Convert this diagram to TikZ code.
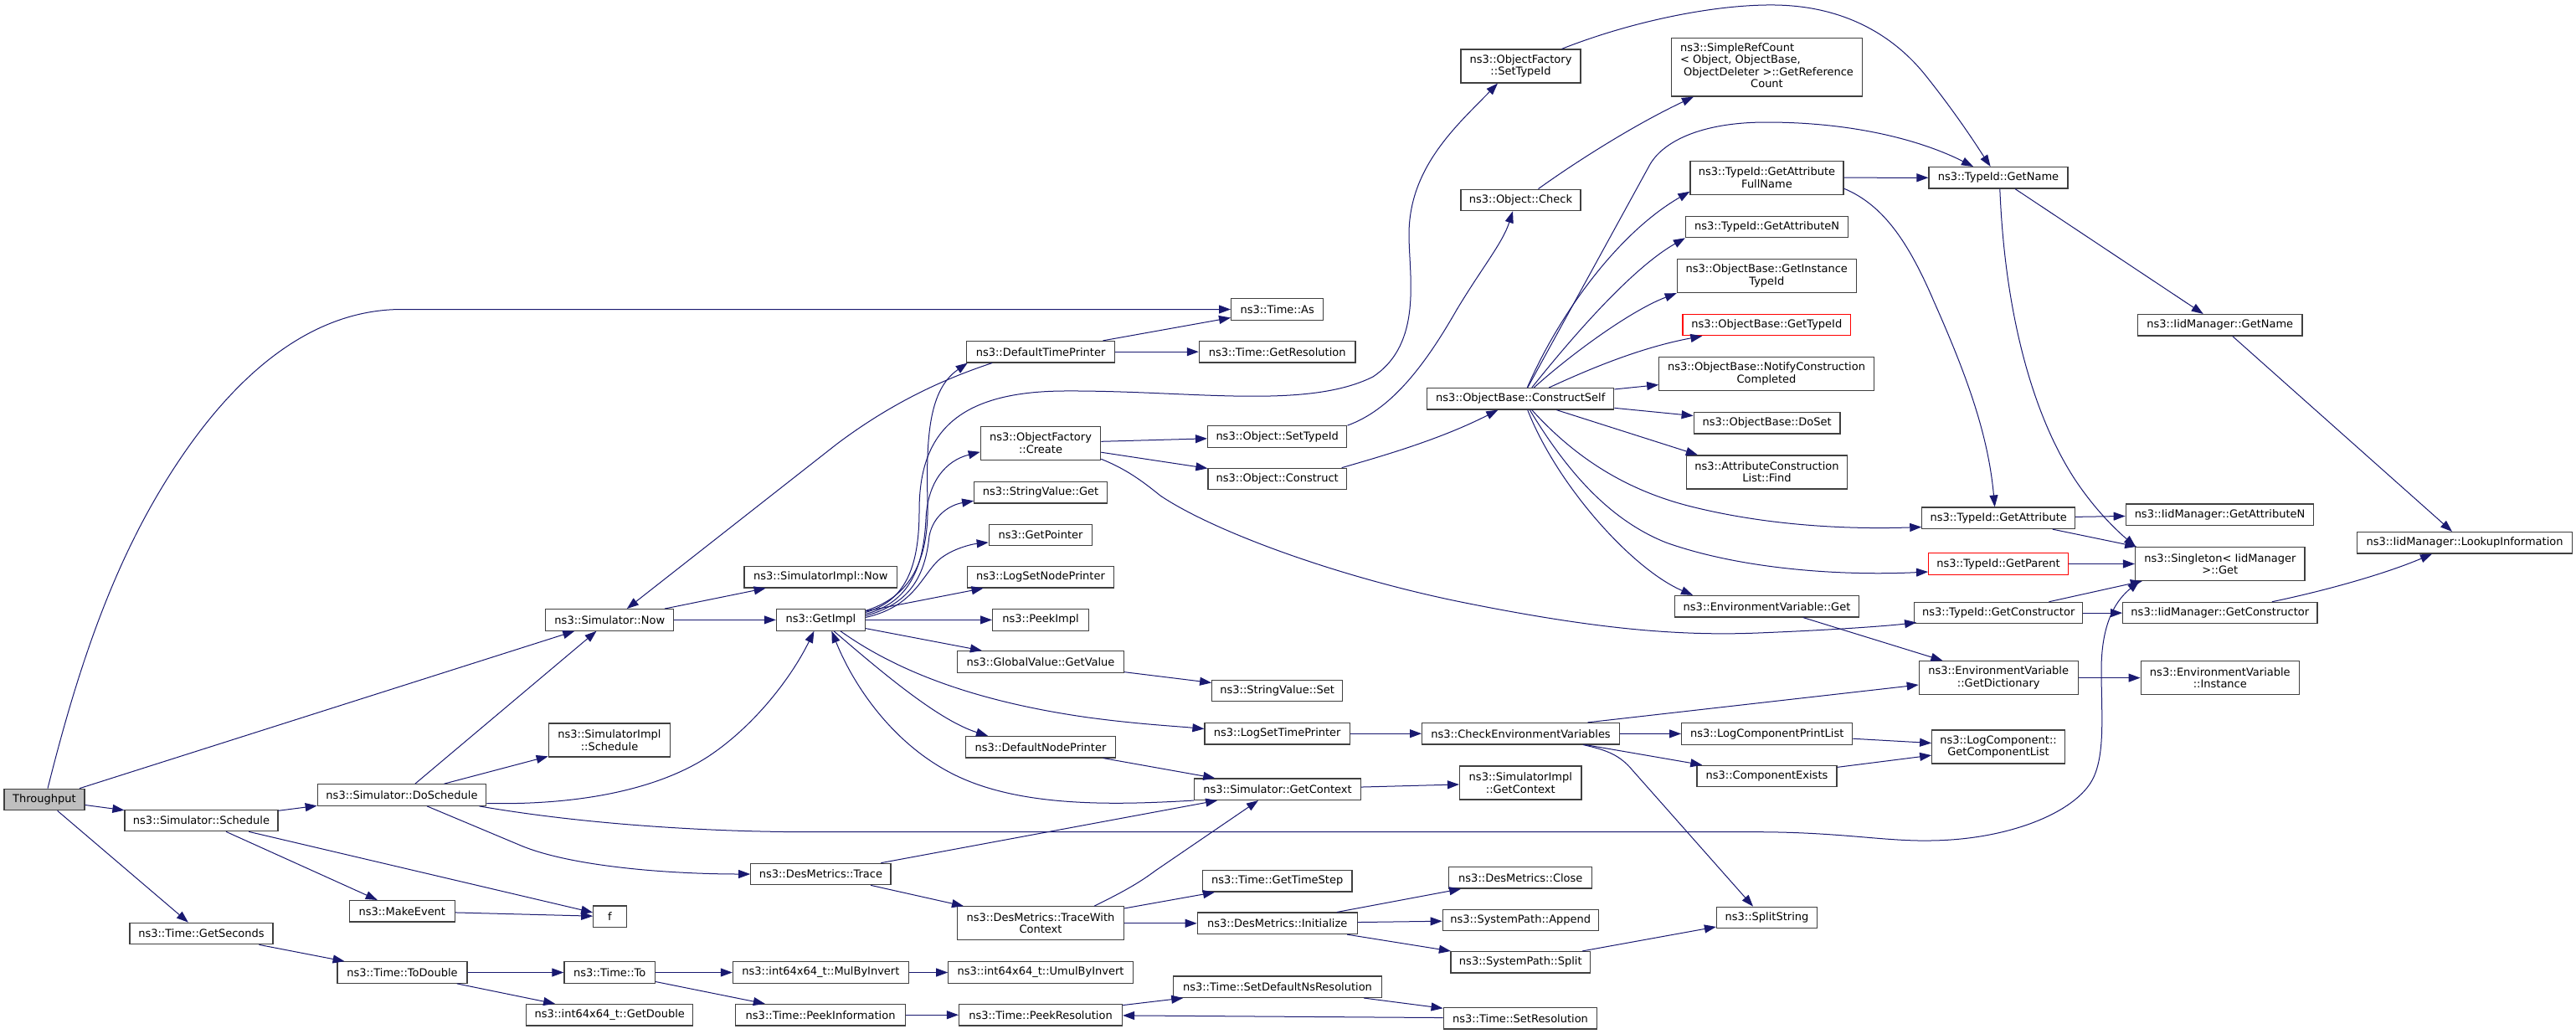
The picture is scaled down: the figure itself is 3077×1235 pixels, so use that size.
\documentclass[tikz,border=0pt]{standalone}
\usepackage{fontspec}
\setmainfont{DejaVu Sans}
\usetikzlibrary{arrows.meta,calc}
\definecolor{edgeblue}{HTML}{191970}
\definecolor{boxline}{HTML}{404040}
\newcommand\ndfont{\fontsize{9.75pt}{10.8pt}\selectfont}
\begin{document}
\begin{tikzpicture}[x=0.75pt,y=-0.75pt,
  nd/.style={draw=boxline, line width=0.9pt, fill=white, inner sep=0pt, align=center,
    minimum height=25.5*0.75pt, font=\ndfont, text=black},
  wd/.style={minimum width=#1*0.75pt},
  tall/.style={minimum height=40*0.75pt},
  hot/.style={draw=red},
  cur/.style={fill=black!25},
  ed/.style={draw=edgeblue, line width=0.75pt, -{Triangle[length=10.5pt,width=7.5pt]}}]
\fill[white] (0,0) rectangle (3077,1235);
\useasboundingbox (0,0) rectangle (3077,1235);

% ---- nodes ----
\node[nd,cur,wd=96] (thr) at (53,955) {Throughput};
\node[nd,wd=183] (sched) at (240.5,980) {ns3::Simulator::Schedule};
\node[nd,wd=171] (getsec) at (240.5,1115) {ns3::Time::GetSeconds};
\node[nd,wd=201.5] (dosched) at (480,949.5) {ns3::Simulator::DoSchedule};
\node[nd,wd=126] (makeev) at (480.3,1088.3) {ns3::MakeEvent};
\node[nd,wd=155] (todbl) at (480.5,1161.5) {ns3::Time::ToDouble};
\node[nd,wd=153] (now) at (728.3,740.4) {ns3::Simulator::Now};
\node[nd,tall,wd=145.5] (simschd) at (728,884) {ns3::SimulatorImpl\\::Schedule};
\node[nd,wd=39.5] (f) at (728.5,1094.7) {f};
\node[nd,wd=108.5] (timeto) at (728.2,1161.5) {ns3::Time::To};
\node[nd,wd=199] (getdbl) at (728.3,1212.2) {ns3::int64x64\_t::GetDouble};
\node[nd,wd=182.7] (simnow) at (980.3,689.2) {ns3::SimulatorImpl::Now};
\node[nd,wd=106] (getimpl) at (980.4,740.4) {ns3::GetImpl};
\node[nd,wd=167.3] (trace) at (980.4,1044) {ns3::DesMetrics::Trace};
\node[nd,wd=210] (mulinv) at (980.4,1161.5) {ns3::int64x64\_t::MulByInvert};
\node[nd,wd=202.5] (peekinfo) at (980.1,1212.2) {ns3::Time::PeekInformation};
\node[nd,wd=177.5] (dtp) at (1243.1,420.2) {ns3::DefaultTimePrinter};
\node[nd,tall,wd=143.4] (ofcreate) at (1243,529.3) {ns3::ObjectFactory\\::Create};
\node[nd,wd=158.6] (svget) at (1243,588.2) {ns3::StringValue::Get};
\node[nd,wd=123.5] (getptr) at (1243,638.9) {ns3::GetPointer};
\node[nd,wd=175] (lsnp) at (1243,689.2) {ns3::LogSetNodePrinter};
\node[nd,wd=114.8] (peekimpl) at (1243,740.4) {ns3::PeekImpl};
\node[nd,wd=199] (gvget) at (1243,790.4) {ns3::GlobalValue::GetValue};
\node[nd,wd=179] (dnp) at (1243,892.2) {ns3::DefaultNodePrinter};
\node[nd,tall,wd=199] (twc) at (1243,1102.8) {ns3::DesMetrics::TraceWith\\Context};
\node[nd,wd=220.4] (umul) at (1243,1161.5) {ns3::int64x64\_t::UmulByInvert};
\node[nd,wd=195] (peekres) at (1243,1212.2) {ns3::Time::PeekResolution};
\node[nd,wd=110.2] (timeas) at (1525.7,369.5) {ns3::Time::As};
\node[nd,wd=186.7] (getres) at (1525.7,420.2) {ns3::Time::GetResolution};
\node[nd,wd=166.3] (objsettid) at (1525.7,521.5) {ns3::Object::SetTypeId};
\node[nd,wd=165.4] (objconstr) at (1525.7,572) {ns3::Object::Construct};
\node[nd,wd=156] (svset) at (1525.7,825.1) {ns3::StringValue::Set};
\node[nd,wd=173.4] (lstp) at (1525.7,876.2) {ns3::LogSetTimePrinter};
\node[nd,wd=198.5] (getctx) at (1526,942.7) {ns3::Simulator::GetContext};
\node[nd,wd=178.6] (gettstep) at (1525.7,1052.3) {ns3::Time::GetTimeStep};
\node[nd,wd=190.8] (desinit) at (1525.7,1102.8) {ns3::DesMetrics::Initialize};
\node[nd,wd=249.5] (setdefns) at (1526,1178.7) {ns3::Time::SetDefaultNsResolution};
\node[nd,tall,wd=143] (ofsettid) at (1816.5,79) {ns3::ObjectFactory\\::SetTypeId};
\node[nd,wd=143] (objcheck) at (1816.5,238.9) {ns3::Object::Check};
\node[nd,wd=223] (cself) at (1816.3,476.3) {ns3::ObjectBase::ConstructSelf};
\node[nd,wd=235.7] (checkenv) at (1816.5,876.2) {ns3::CheckEnvironmentVariables};
\node[nd,tall,wd=145.4] (simctx) at (1816.3,935) {ns3::SimulatorImpl\\::GetContext};
\node[nd,wd=171] (desclose) at (1816.3,1048.3) {ns3::DesMetrics::Close};
\node[nd,wd=186.2] (spappend) at (1816.3,1099) {ns3::SystemPath::Append};
\node[nd,wd=166.8] (spsplit) at (1816.3,1149.3) {ns3::SystemPath::Split};
\node[nd,wd=183.7] (setres) at (1816,1216.2) {ns3::Time::SetResolution};
\node[nd,wd=228,minimum height=69.5*0.75pt] (srefcnt) at (2110.5,80.3)
  {\begin{tabular}{@{}l@{}}ns3::SimpleRefCount\\< Object, ObjectBase,\\\ ObjectDeleter >::GetReference\\\multicolumn{1}{@{}c@{}}{Count}\end{tabular}};
\node[nd,tall,wd=183] (gafull) at (2110.5,212.2) {ns3::TypeId::GetAttribute\\FullName};
\node[nd,wd=194.2] (gaN) at (2110.6,270.9) {ns3::TypeId::GetAttributeN};
\node[nd,tall,wd=214] (gitid) at (2110.3,329.6) {ns3::ObjectBase::GetInstance\\TypeId};
\node[nd,hot,wd=200.8] (gtid) at (2110.3,388) {ns3::ObjectBase::GetTypeId};
\node[nd,tall,wd=256.5] (notify) at (2110,446.6) {ns3::ObjectBase::NotifyConstruction\\Completed};
\node[nd,wd=174.8] (doset) at (2110.6,505.2) {ns3::ObjectBase::DoSet};
\node[nd,tall,wd=192.1] (acfind) at (2110.5,563.9) {ns3::AttributeConstruction\\List::Find};
\node[nd,wd=219.7] (envget) at (2110.5,724.2) {ns3::EnvironmentVariable::Get};
\node[nd,wd=204.1] (lcpl) at (2110.7,876.5) {ns3::LogComponentPrintList};
\node[nd,wd=166.9] (cexists) at (2110.5,927) {ns3::ComponentExists};
\node[nd,wd=120] (splitstr) at (2110.5,1096) {ns3::SplitString};
\node[nd,wd=166] (tgetname) at (2387,212.3) {ns3::TypeId::GetName};
\node[nd,wd=182.7] (tgetattr) at (2387.2,618.8) {ns3::TypeId::GetAttribute};
\node[nd,hot,wd=166.8] (tgetparent) at (2387,673.5) {ns3::TypeId::GetParent};
\node[nd,wd=201] (tgetctor) at (2387.2,732.1) {ns3::TypeId::GetConstructor};
\node[nd,tall,wd=189.8] (getdict) at (2387.2,809.6) {ns3::EnvironmentVariable\\::GetDictionary};
\node[nd,tall,wd=158.6] (getcomplist) at (2387,892) {ns3::LogComponent::\\GetComponentList};
\node[nd,wd=196.4] (iidgetname) at (2651.8,388.3) {ns3::IidManager::GetName};
\node[nd,wd=224.5] (iidgetattrN) at (2651.5,614.7) {ns3::IidManager::GetAttributeN};
\node[nd,tall,wd=202.5] (singleton) at (2651.8,673.5) {ns3::Singleton< IidManager\\ >::Get};
\node[nd,wd=232.2] (iidgetctor) at (2651.8,732.1) {ns3::IidManager::GetConstructor};
\node[nd,tall,wd=189.3] (envinst) at (2651.8,809.6) {ns3::EnvironmentVariable\\::Instance};
\node[nd,wd=256.5] (lookup) at (2944,648.3) {ns3::IidManager::LookupInformation};

% ---- edges ----
\draw[ed] ($(thr.north)+(4,0)$) .. controls (87,822) and (124.5,700) .. (187,593)
  .. controls (252.5,481) and (350,369.5) .. (480,369.5) -- (timeas.west);
\draw[ed] (thr) -- (now);
\draw[ed] (thr) -- (sched);
\draw[ed] (thr) -- (getsec);
\draw[ed] (sched) -- (dosched);
\draw[ed] (sched) -- (makeev);
\draw[ed] (sched) -- (f);
\draw[ed] (makeev) -- (f);
\draw[ed] (getsec) -- (todbl);
\draw[ed] (todbl) -- (timeto);
\draw[ed] (todbl) -- (getdbl);
\draw[ed] (timeto) -- (mulinv);
\draw[ed] (timeto) -- (peekinfo);
\draw[ed] (mulinv) -- (umul);
\draw[ed] (peekinfo) -- (peekres);
\draw[ed] (peekres) -- (setdefns);
\draw[ed] (setdefns) -- (setres);
\draw[ed] (setres) -- (peekres);
\draw[ed] (dosched) -- (now);
\draw[ed] (dosched) -- (simschd);
\draw[ed] ($(dosched.east)+(0,10)$) .. controls (700,962) and (790,940) .. (845.7,903.7)
  .. controls (900,868) and (945,810) .. ($(getimpl.south)+(-8,0)$);
\draw[ed] ($(dosched.south)+(30,0)$) -- (620,1009) .. controls (680,1035) and (800,1044) .. (trace.west);
\draw[ed] ($(dosched.south east)+(-9,0)$) .. controls (700,985) and (850,993.7) .. (968,993.7)
  -- (2100,993.7) .. controls (2200,994) and (2250,1005) .. (2306,1004)
  .. controls (2400,1003) and (2480,970) .. (2500,930)
  .. controls (2515,900) and (2510,850) .. (2510,800)
  .. controls (2510,740) and (2530,715) .. ($(singleton.south west)+(5.5,0)$);
\draw[ed] (now) -- (simnow);
\draw[ed] (now) -- (getimpl);
% GetImpl fan
\draw[ed] ($(getimpl.east)+(0,-11)$) .. controls (1080,715) and (1110,680) .. (1108,600)
  .. controls (1106,520) and (1110,465) .. ($(dtp.south west)+(2,0)$);
\draw[ed] ($(getimpl.east)+(0,-9)$) .. controls (1080,718) and (1098,680) .. (1098,610)
  .. controls (1098,520) and (1140,468) .. (1270,467)
  .. controls (1420,466) and (1560,490) .. (1640,450)
  .. controls (1700,410) and (1683,330) .. (1683,280)
  .. controls (1683,200) and (1740,150) .. ($(ofsettid.south)+(-27.5,0)$);
\draw[ed] ($(getimpl.east)+(0,-7)$) .. controls (1085,720) and (1103,680) .. (1106,620)
  .. controls (1108,575) and (1130,550) .. ($(ofcreate.west)+(0,10.5)$);
\draw[ed] ($(getimpl.east)+(0,-5)$) .. controls (1085,722) and (1105,690) .. (1110,640)
  .. controls (1115,615) and (1135,603) .. ($(svget.west)+(0,10)$);
\draw[ed] ($(getimpl.east)+(0,-3)$) .. controls (1090,725) and (1100,690) .. (1120,670)
  .. controls (1135,656) and (1160,650) .. ($(getptr.west)+(0,9)$);
\draw[ed] (getimpl) -- (lsnp);
\draw[ed] (getimpl) -- (peekimpl);
\draw[ed] (getimpl) -- (gvget);
\draw[ed] ($(getimpl.south)+(15.6,0)$) .. controls (1050,800) and (1120,860) .. ($(dnp.north)+(-63,0)$);
\draw[ed] ($(getimpl.south)+(23.5,0)$) .. controls (1080,808) and (1180,840) .. (1300,857)
  .. controls (1360,865) and (1400,867) .. ($(lstp.west)+(0,-5.7)$);
\draw[ed] (gvget) -- (svset);
\draw[ed] (dnp) -- (getctx);
\draw[ed] (trace) -- (getctx);
\draw[ed] (trace) -- (twc);
\draw[ed] ($(twc.north)+(64,0)$) .. controls (1340,1066) and (1360,1055) .. (1380,1040) -- ($(getctx.south)+(-23,0)$);
\draw[ed] (twc) -- (gettstep);
\draw[ed] (twc) -- (desinit);
\draw[ed] (desinit) -- (desclose);
\draw[ed] (desinit) -- (spappend);
\draw[ed] (desinit) -- (spsplit);
\draw[ed] (spsplit) -- (splitstr);
\draw[ed] (lstp) -- (checkenv);
\draw[ed] (getctx) -- (simctx);
\draw[ed] (getctx.south west) .. controls (1340,961) and (1230,965) .. (1150,930)
  .. controls (1070,895) and (1020,820) .. ($(getimpl.south)+(13,0)$);
\draw[ed] (ofcreate) -- (objsettid);
\draw[ed] (ofcreate) -- (objconstr);
\draw[ed] ($(ofcreate.east)+(0,19)$) .. controls (1345,560) and (1365,575) .. (1386,592)
  .. controls (1450,635) and (1600,690) .. (1750,720)
  .. controls (1900,750) and (2000,760) .. (2100,756)
  .. controls (2200,752) and (2260,747) .. ($(tgetctor.south west)+(3,-2)$);
\draw[ed] (objsettid.north east) .. controls (1660,490) and (1700,440) .. (1740,370)
  .. controls (1770,320) and (1795,290) .. ($(objcheck.south)+(-9.5,0)$);
\draw[ed] ($(objconstr.north)+(77,0)$) .. controls (1650,545) and (1720,525) .. ($(cself.south)+(-27,0)$);
\draw[ed] ($(objcheck.north)+(21,0)$) .. controls (1880,195) and (1950,150) .. ($(srefcnt.south west)+(27,0)$);
\draw[ed] ($(ofsettid.north)+(49,0)$) .. controls (1950,25) and (2050,5) .. (2120,6)
  .. controls (2200,7) and (2260,40) .. (2300,90)
  .. controls (2340,140) and (2365,180) .. ($(tgetname.north)+(-9.4,0)$);
% ConstructSelf fan
\draw[ed] ($(cself.north)+(8.4,0)$) -- (1970,198) .. controls (1985,170) and (2030,146) .. (2110,146)
  .. controls (2220,146) and (2300,170) .. ($(tgetname.north)+(-30,0)$);
\draw[ed] ($(cself.north)+(8,0)$) .. controls (1860,380) and (1930,280) .. ($(gafull.south west)+(0,-4)$);
\draw[ed] ($(cself.north)+(13.5,0)$) .. controls (1880,400) and (1950,320) .. (gaN.south west);
\draw[ed] ($(cself.north)+(16,0)$) .. controls (1880,420) and (1950,370) .. (gitid.south west);
\draw[ed] ($(cself.north)+(34,0)$) .. controls (1900,440) and (1960,415) .. ($(gtid.south west)+(24,0)$);
\draw[ed] (cself) -- (notify);
\draw[ed] (cself) -- (doset);
\draw[ed] ($(cself.south)+(43,0)$) -- ($(acfind.north west)+(14,0)$);
\draw[ed] ($(cself.south)+(8.4,0)$) .. controls (1860,580) and (1950,680) .. ($(envget.north west)+(22,0)$);
\draw[ed] ($(cself.south)+(11,0)$) .. controls (1870,560) and (1920,620) .. (1990,648)
  .. controls (2080,680) and (2200,688) .. ($(tgetparent.west)+(0,9.5)$);
\draw[ed] ($(cself.south)+(13.5,0)$) .. controls (1880,545) and (1940,585) .. (2020,605)
  .. controls (2120,630) and (2220,632) .. ($(tgetattr.west)+(0,10.7)$);
\draw[ed] (gafull) -- (tgetname);
\draw[ed] ($(gafull.east)+(0,13)$) .. controls (2250,245) and (2280,290) .. (2310,360)
  .. controls (2350,450) and (2375,520) .. ($(tgetattr.north)+(-4.5,0)$);
\draw[ed] (tgetname) -- (iidgetname);
\draw[ed] ($(tgetname.south)+(1.8,0)$) .. controls (2395,380) and (2430,500) .. (2480,575)
  .. controls (2505,612) and (2530,635) .. ($(singleton.north west)+(1,0)$);
\draw[ed] (iidgetname) -- (lookup);
\draw[ed] (tgetattr) -- (iidgetattrN);
\draw[ed] (tgetattr) -- (singleton);
\draw[ed] (tgetparent) -- (singleton);
\draw[ed] (tgetctor) -- (singleton);
\draw[ed] (tgetctor) -- (iidgetctor);
\draw[ed] ($(iidgetctor.north)+(62,0)$) .. controls (2780,705) and (2850,685) .. ($(lookup.south)+(-39,0)$);
\draw[ed] (envget) -- (getdict);
\draw[ed] (getdict) -- (envinst);
\draw[ed] ($(checkenv.north)+(80,0)$) -- ($(getdict.west)+(0,8.4)$);
\draw[ed] (checkenv) -- (lcpl);
\draw[ed] (checkenv) -- (cexists);
\draw[ed] ($(checkenv.south)+(74.5,0)$) .. controls (1920,896) and (1935,902) .. (1950,920) -- ($(splitstr.north)+(-16.5,0)$);
\draw[ed] (lcpl) -- (getcomplist);
\draw[ed] (cexists) -- (getcomplist);
\draw[ed] (dtp) -- (timeas);
\draw[ed] (dtp) -- (getres);
\draw[ed] ($(dtp.south)+(-58,0)$) .. controls (1120,455) and (1060,485) .. (1000,530) -- ($(now.north)+(20.5,0)$);
\end{tikzpicture}
\end{document}
